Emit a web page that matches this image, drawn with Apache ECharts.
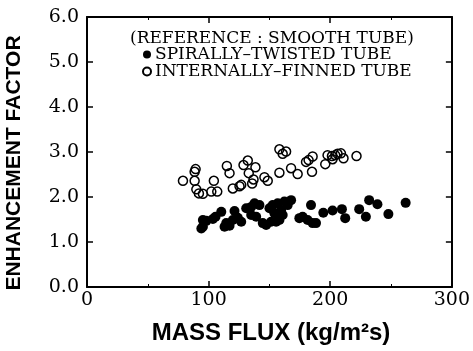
<!DOCTYPE html>
<html><head><meta charset="utf-8">
<script src="https://cdn.jsdelivr.net/npm/echarts@6/dist/echarts.min.js"></script>
<style>html,body{margin:0;padding:0;background:#fff}#c{width:473px;height:351px}</style>
</head><body><div id="c"></div>
<script>
// Data (mass flux kg/m2s, enhancement factor)
const twistedX = [94.0,95.3,98.1,103.5,105.7,110.4,113.1,114.5,117.2,121.3,119.9,124.0,126.8,130.9,135.0,137.7,141.8,135.0,139.1,144.5,147.3,150.0,152.7,156.8,154.1,159.6,160.9,162.3,165.0,167.8,151.4,155.5,158.2,174.6,177.3,181.4,184.2,185.5,188.3,194.3,201.9,209.6,212.3,223.8,229.3,232.0,238.8,247.8,262.0,95.3];
const twistedY = [1.30,1.34,1.47,1.51,1.56,1.67,1.34,1.42,1.36,1.69,1.49,1.54,1.45,1.75,1.78,1.86,1.82,1.60,1.56,1.42,1.38,1.75,1.82,1.86,1.64,1.71,1.60,1.90,1.82,1.93,1.45,1.45,1.49,1.53,1.56,1.49,1.82,1.42,1.42,1.65,1.70,1.73,1.53,1.73,1.56,1.93,1.84,1.62,1.87,1.49];
const finnedX = [78.9,88.5,89.3,88.5,89.9,92.0,95.3,104.3,102.2,107.1,115.0,117.2,119.9,125.4,128.7,132.2,133.0,138.5,136.9,135.8,126.8,145.9,148.6,158.2,160.9,163.7,158.2,167.8,173.2,180.1,182.2,185.5,185.0,195.9,197.8,201.4,204.1,206.0,208.8,210.9,201.9,221.6];
const finnedY = [2.36,2.56,2.62,2.36,2.17,2.08,2.07,2.36,2.12,2.12,2.69,2.53,2.19,2.24,2.71,2.81,2.53,2.66,2.39,2.30,2.27,2.44,2.36,3.06,2.96,3.01,2.54,2.64,2.51,2.78,2.82,2.90,2.56,2.73,2.93,2.91,2.93,2.96,2.97,2.86,2.84,2.91];
const xTicks = [0,100,200,300];
const yTicks = ['0.0','1.0','2.0','3.0','4.0','5.0','6.0'];
const seriesNames = ['SPIRALLY\u2013TWISTED TUBE','INTERNALLY\u2013FINNED TUBE'];
const legendHeader = '(REFERENCE : SMOOTH TUBE)';
const xTitle = 'MASS FLUX (kg/m\u00B2s)';
const yTitle = 'ENHANCEMENT FACTOR';

const serif = '"DejaVu Serif","Liberation Serif",serif';
const sans = '"Liberation Sans",Arial,sans-serif';
const chart = echarts.init(document.getElementById('c'));
const axisLine = {show:true, onZero:false, lineStyle:{color:'#000', width:2}};
const tick = {show:true, inside:true, length:6, lineStyle:{color:'#000',width:1.5}};
const minor = {show:true, splitNumber:2, length:3, lineStyle:{color:'#000'}};
chart.setOption({
  animation:false,
  grid: {left:87, right:20, top:17, bottom:64},
  xAxis: [{
    type:'value', min:0, max:300, interval:100, position:'bottom',
    axisLine: axisLine, axisTick: tick, minorTick: minor, splitLine:{show:false},
    axisLabel:{color:'#000', fontFamily:serif, fontSize:19, margin:4, formatter:v=>String(v)}
  },{
    type:'value', min:0, max:300, interval:100, position:'top',
    axisLine: axisLine, axisTick: tick, minorTick: minor,
    splitLine:{show:false}, axisLabel:{show:false}
  }],
  yAxis: [{
    type:'value', min:0, max:6, interval:1, position:'left',
    axisLine: axisLine, axisTick: tick, splitLine:{show:false},
    axisLabel:{color:'#000', fontFamily:serif, fontSize:19, margin:8, formatter:v=>yTicks[Math.round(v)]}
  },{
    type:'value', min:0, max:6, interval:1, position:'right',
    axisLine: axisLine, axisTick: tick,
    splitLine:{show:false}, axisLabel:{show:false}
  }],
  legend: {
    orient:'vertical', left:142, top:46, itemGap:0, itemWidth:8, itemHeight:8, padding:0,
    textStyle:{color:'#000', fontFamily:serif, fontSize:17, lineHeight:15, padding:[0,0,0,-1]},
    data:[{name:seriesNames[0], icon:'circle'},{name:seriesNames[1], icon:'circle'}]
  },
  graphic: [
    {type:'text', left:130, top:30, style:{text:legendHeader, font:'17px '+serif, fill:'#000'}},
    {type:'text', x:271, y:333, style:{text:xTitle, font:'bold 24px '+sans, fill:'#000', align:'center', verticalAlign:'middle'}},
    {type:'text', x:4, y:163, rotation:Math.PI/2, style:{text:yTitle, font:'bold 21px '+sans, fill:'#000', align:'center', verticalAlign:'top'}}
  ],
  series: [
    {name:seriesNames[0], type:'scatter', symbol:'circle', symbolSize:10,
     itemStyle:{color:'#000', borderColor:'#000', borderWidth:0, opacity:1},
     data: twistedX.map((x,i)=>[x,twistedY[i]])},
    {name:seriesNames[1], type:'scatter', symbol:'circle', symbolSize:9,
     itemStyle:{color:'rgba(255,255,255,0)', borderColor:'#000', borderWidth:1.5, opacity:1},
     data: finnedX.map((x,i)=>[x,finnedY[i]])}
  ]
});
</script></body></html>
